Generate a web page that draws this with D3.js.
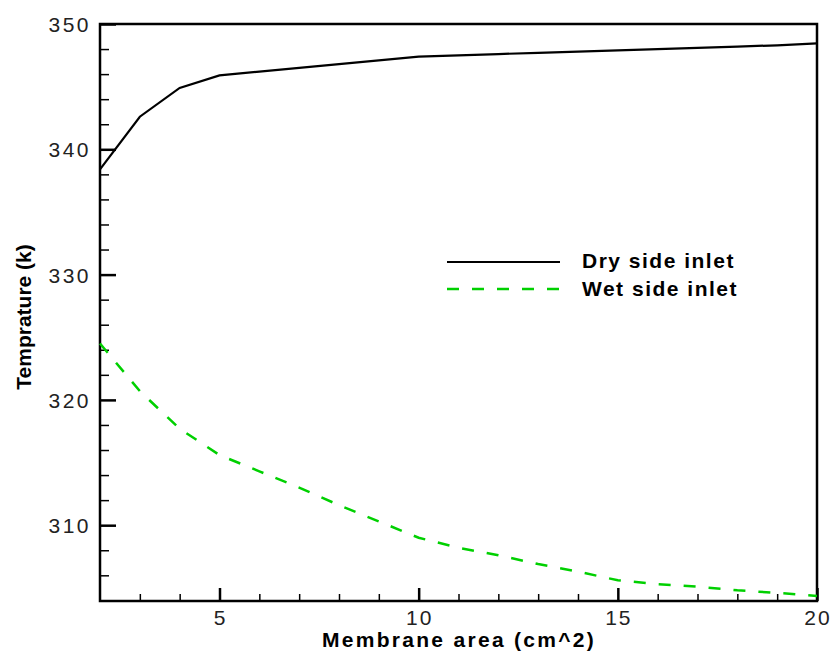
<!DOCTYPE html>
<html>
<head>
<meta charset="utf-8">
<script src="https://cdn.jsdelivr.net/npm/d3@7"></script>
<style>
  body { margin: 0; background: #fff; }
  text { font-family: "Liberation Sans", Arial, sans-serif; }
</style>
</head>
<body>
<div id="chart"></div>
<script>
var width = 831;
var height = 651;
var margin = {top: 24, right: 14, bottom: 50, left: 100};

// membrane area (cm^2)
var area = [2, 3, 4, 5, 6, 7, 8, 9, 10, 11, 12, 13, 14, 15, 16, 17, 18, 19, 20];
// temperatures (K)
var dryInlet = [338.4, 342.6, 344.9, 345.9, 346.2, 346.5, 346.8, 347.1, 347.4, 347.5,
                347.6, 347.7, 347.8, 347.9, 348.0, 348.1, 348.2, 348.3, 348.45];
var wetInlet = [324.5, 320.7, 317.7, 315.6, 314.3, 313.0, 311.6, 310.3, 309.0, 308.2,
                307.6, 306.9, 306.3, 305.6, 305.3, 305.1, 304.8, 304.6, 304.35];

var xMajor = [5, 10, 15, 20];
var xMinor = [3, 4, 6, 7, 8, 9, 11, 12, 13, 14, 16, 17, 18, 19];
var yMajor = [310, 320, 330, 340, 350];
var yMinor = [306, 308, 312, 314, 316, 318, 322, 324, 326, 328, 332, 334, 336, 338, 342, 344, 346, 348];

var seriesNames = ["Dry side inlet", "Wet side inlet"];

var x = d3.scaleLinear().domain([2, 20]).range([margin.left, width - margin.right]);
var y = d3.scaleLinear().domain([303.95, 350]).range([height - margin.bottom, margin.top]);

var svg = d3.select("#chart").append("svg")
  .attr("width", width)
  .attr("height", height);

var plotBottom = height - margin.bottom;

// minor ticks (drawn inward)
svg.append("g")
  .attr("transform", "translate(0," + plotBottom + ")")
  .call(d3.axisTop(x).tickValues(xMinor).tickSize(7).tickFormat(""))
  .call(function(g) { g.select(".domain").remove(); })
  .selectAll("line").attr("stroke", "#000").attr("stroke-width", 1.5);
svg.append("g")
  .attr("transform", "translate(0," + plotBottom + ")")
  .call(d3.axisTop(x).tickValues(xMajor).tickSize(13).tickFormat(""))
  .call(function(g) { g.select(".domain").remove(); })
  .selectAll("line").attr("stroke", "#000").attr("stroke-width", 2.5);

svg.append("g")
  .attr("transform", "translate(" + margin.left + ",0)")
  .call(d3.axisRight(y).tickValues(yMinor).tickSize(9).tickFormat(""))
  .call(function(g) { g.select(".domain").remove(); })
  .selectAll("line").attr("stroke", "#000").attr("stroke-width", 1.5);
svg.append("g")
  .attr("transform", "translate(" + margin.left + ",0)")
  .call(d3.axisRight(y).tickValues(yMajor).tickSize(16).tickFormat(""))
  .call(function(g) { g.select(".domain").remove(); })
  .selectAll("line").attr("stroke", "#000").attr("stroke-width", 2.5);

// tick labels
svg.selectAll(".xlab")
  .data(xMajor)
  .enter().append("text")
  .attr("class", "xlab")
  .attr("x", function(d) { return x(d) + 1; })
  .attr("y", plotBottom + 24)
  .attr("text-anchor", "middle")
  .style("font-size", "21px")
  .style("letter-spacing", "2px")
  .attr("fill", "#222")
  .text(function(d) { return d; });

svg.selectAll(".ylab")
  .data(yMajor)
  .enter().append("text")
  .attr("class", "ylab")
  .attr("x", margin.left - 9)
  .attr("y", function(d) { return y(d) + 8; })
  .attr("text-anchor", "end")
  .style("font-size", "21px")
  .style("letter-spacing", "2.5px")
  .attr("fill", "#222")
  .text(function(d) { return d; });

// frame
svg.append("rect")
  .attr("x", margin.left)
  .attr("y", margin.top)
  .attr("width", width - margin.left - margin.right)
  .attr("height", plotBottom - margin.top)
  .attr("fill", "none")
  .attr("stroke", "#000")
  .attr("stroke-width", 2.5);

var line = d3.line()
  .x(function(d) { return x(d[0]); })
  .y(function(d) { return y(d[1]); });

svg.append("path")
  .datum(d3.zip(area, dryInlet))
  .attr("d", line)
  .attr("fill", "none")
  .attr("stroke", "#000")
  .attr("stroke-width", 2.2);

svg.append("path")
  .datum(d3.zip(area, wetInlet))
  .attr("d", line)
  .attr("fill", "none")
  .attr("stroke", "#00d000")
  .attr("stroke-width", 2.5)
  .attr("stroke-dasharray", "12,13");

// legend
var legend = svg.append("g").attr("transform", "translate(447,262)");
legend.append("line")
  .attr("x1", 0).attr("x2", 113).attr("y1", 0).attr("y2", 0)
  .attr("stroke", "#000").attr("stroke-width", 2.2);
legend.append("line")
  .attr("x1", 0).attr("x2", 113).attr("y1", 27).attr("y2", 27)
  .attr("stroke", "#00d000").attr("stroke-width", 2.5)
  .attr("stroke-dasharray", "12,13");
legend.selectAll("text")
  .data(seriesNames)
  .enter().append("text")
  .attr("x", 135)
  .attr("y", function(d, i) { return 6 + i * 28; })
  .style("font-size", "21px")
  .style("font-weight", "bold")
  .style("letter-spacing", "1.5px")
  .attr("fill", "#000")
  .text(function(d) { return d; });

// axis titles
svg.append("text")
  .attr("text-anchor", "middle")
  .attr("transform", "translate(459," + (height - 4) + ")")
  .style("font-size", "21px")
  .style("font-weight", "bold")
  .style("letter-spacing", "2.3px")
  .text("Membrane area (cm^2)");

svg.append("text")
  .attr("text-anchor", "middle")
  .attr("transform", "translate(31,317) rotate(-90)")
  .style("font-size", "21px")
  .style("font-weight", "bold")
  .text("Temprature (k)");
</script>
</body>
</html>
